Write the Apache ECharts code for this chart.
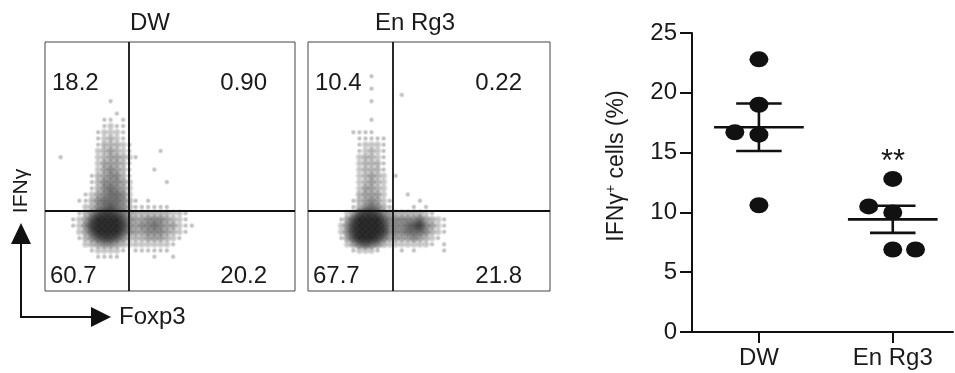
<!DOCTYPE html>
<html>
<head>
<meta charset="utf-8">
<script src="https://cdn.jsdelivr.net/npm/echarts@6/dist/echarts.min.js"></script>
<style>
  html, body { margin: 0; padding: 0; background: #fff; }
  #chart { width: 955px; height: 373px; }
</style>
</head>
<body>
<div id="chart"></div>
<script>
const FONT = '"Liberation Sans", Arial, Helvetica, sans-serif';

// ---- dot plot (right) ----
const groups = ['DW', 'En Rg3'];
const groupPos = [0.5, 1.5];
const dwValues = [22.8, 19.0, 16.7, 16.5, 10.6];
const rg3Values = [12.8, 10.5, 10.0, 6.9, 6.9];
// sideways shift of overlapping dots, in group units
const dwJitter = [0, 0, -0.18, 0, 0];
const rg3Jitter = [0, -0.18, 0, 0, 0.17];
const yTicks = [0, 5, 10, 15, 20, 25];

// ---- flow panels (left) ----
const panelTitles = ['DW', 'En Rg3'];
const dwQuadrants = ['18.2', '0.90', '60.7', '20.2'];   // UL, UR, LL, LR
const rg3Quadrants = ['10.4', '0.22', '67.7', '21.8'];
const dwGate = [33.6, 32.3];
const rg3Gate = [35.1, 32.1];

// event density, 2.5-unit cells; rows from y=90 downwards, columns from x=0
const dwDensity = [
  '0000000000000000000000000',
  '0000000000000000000000000',
  '0000000000000000000000000',
  '0000000000000000000000000',
  '0000000000000000000000000',
  '0000000000100000000000000',
  '0000000000000000000000000',
  '0000000000010000000000000',
  '0000000001101000000000000',
  '0000000001211000000000000',
  '0000000012221000000000000',
  '0000000012321000000000000',
  '0000000013332100000000000',
  '0000000023432100001000000',
  '0010000023443210000000000',
  '0000000024443100000000000',
  '0000000024543100010000000',
  '0000000134553100000000000',
  '0000000135554200000100000',
  '0000000135654200000000000',
  '0000001245665200000000000',
  '0000011356665310100000000',
  '0000002356765311111100000',
  '0000013578876433333322100',
  '0000124799997544555432100',
  '0000125899998545565442110',
  '0000024799997544555432100',
  '0000013578875333444321000',
  '0000002345543222222210000',
  '0000000122221011111100000',
  '0000000011110000010010000',
  '0000000000000000000000000'
];
const rg3Density = [
  '0000000000000000000000000',
  '0000000000100000000000000',
  '0000000000000000000000000',
  '0000000000100000000000000',
  '0000000000000001000000000',
  '0000000000100000000000000',
  '0000000000000000000000000',
  '0000000000000000000000000',
  '0000000000100000000000000',
  '0000000000000000000000000',
  '0000000111100000000000000',
  '0000000011111000000000000',
  '0000000012221000000000000',
  '0000000012321000000000000',
  '0000000023321000000000000',
  '0000000023331000000000000',
  '0000000023331000000000000',
  '0000000023432010000000000',
  '0000000023432000000000000',
  '0000000024432000000000000',
  '0000000034442000100000000',
  '0000000134542100001000000',
  '0000000135653100010100000',
  '0000002478875433333210000',
  '0000014799997555556432100',
  '0000025899998555678542100',
  '0000025899998555666532100',
  '0000014799986444454321000',
  '0000002467653222222210100',
  '0000000122210001010000100',
  '0000000000000000000000000',
  '0000000000000000000000000'
];

const CELL = 2.5, TOP = 90;

// one soft blob per non-empty cell
function toCells(rows) {
  const out = [];
  rows.forEach((row, r) => {
    for (let c = 0; c < row.length; c++) {
      const d = +row[c];
      if (!d) continue;
      const a = d === 1 ? 0.3 : 0.1 + d * 0.09;
      out.push({
        value: [(c + 0.5) * CELL, TOP - (r + 0.5) * CELL, d],
        symbolSize: d === 1 ? 6 : 8 + d * 0.6,
        itemStyle: {
          opacity: 1,
          color: new echarts.graphic.RadialGradient(0.5, 0.5, 0.5, [
            { offset: 0, color: `rgba(10,10,10,${a.toFixed(3)})` },
            { offset: 0.5, color: `rgba(10,10,10,${(a * 0.65).toFixed(3)})` },
            { offset: 1, color: 'rgba(10,10,10,0)' }
          ])
        }
      });
    }
  });
  return out;
}

function meanSem(vals) {
  const n = vals.length;
  const m = vals.reduce((s, v) => s + v, 0) / n;
  const sd = Math.sqrt(vals.reduce((s, v) => s + (v - m) ** 2, 0) / (n - 1));
  return [m, sd / Math.sqrt(n)];
}

const PANELS = [
  { left: 45, top: 42, width: 250, height: 249 },
  { left: 308, top: 42, width: 242, height: 249 }
];
const PLOT = { left: 692, top: 33, right: 2, bottom: 41 };

const chart = echarts.init(document.getElementById('chart'));

function flowSeries(idx, cells, gate) {
  return {
    type: 'scatter',
    xAxisIndex: idx,
    yAxisIndex: idx,
    silent: true,
    data: cells,
    symbol: 'circle',
    markLine: {
      silent: true,
      symbol: 'none',
      label: { show: false },
      lineStyle: { color: '#111', width: 1.8, type: 'solid' },
      data: [{ xAxis: gate[0] }, { yAxis: gate[1] }]
    }
  };
}

function quadLabels(panel, labels) {
  const style = (txt, align) => ({ text: txt, font: `24px ${FONT}`, fill: '#1a1a1a', textAlign: align, textVerticalAlign: 'middle' });
  const l = panel.left, r = panel.left + panel.width;
  return [
    { type: 'text', x: l + 7, y: 83, style: style(labels[0], 'left') },
    { type: 'text', x: r - 28, y: 83, style: style(labels[1], 'right') },
    { type: 'text', x: l + 5, y: 276, style: style(labels[2], 'left') },
    { type: 'text', x: r - 28, y: 276, style: style(labels[3], 'right') }
  ];
}

const [dwMean, dwSem] = meanSem(dwValues);
const [rgMean, rgSem] = meanSem(rg3Values);
const MEAN_HALF = 0.335, CAP_HALF = 0.17;

const dots = dwValues.map((v, i) => [groupPos[0] + dwJitter[i], v])
  .concat(rg3Values.map((v, i) => [groupPos[1] + rg3Jitter[i], v]));

chart.setOption({
  animation: false,
  backgroundColor: '#fff',
  textStyle: { fontFamily: FONT },
  grid: [
    { ...PANELS[0], show: true, borderColor: '#444', borderWidth: 1, backgroundColor: 'transparent' },
    { ...PANELS[1], show: true, borderColor: '#444', borderWidth: 1, backgroundColor: 'transparent' },
    { ...PLOT }
  ],
  xAxis: [
    { gridIndex: 0, type: 'value', min: 0, max: 100, show: false },
    { gridIndex: 1, type: 'value', min: 0, max: 100, show: false },
    {
      gridIndex: 2, type: 'value', min: 0, max: 1.95,
      splitLine: { show: false },
      axisLine: { show: true, lineStyle: { color: '#111', width: 2 } },
      axisTick: { show: true, customValues: groupPos, length: 11, lineStyle: { color: '#111', width: 2 } },
      axisLabel: {
        customValues: groupPos, margin: 14,
        formatter: (v) => groups[groupPos.indexOf(v)] || '',
        fontSize: 24, color: '#1a1a1a', fontFamily: FONT
      }
    }
  ],
  yAxis: [
    { gridIndex: 0, type: 'value', min: 0, max: 100, show: false },
    { gridIndex: 1, type: 'value', min: 0, max: 100, show: false },
    {
      gridIndex: 2, type: 'value', min: yTicks[0], max: yTicks[yTicks.length - 1], interval: 5,
      splitLine: { show: false },
      axisLine: { show: true, lineStyle: { color: '#111', width: 2 } },
      axisTick: { show: true, length: 12, lineStyle: { color: '#111', width: 2 } },
      axisLabel: { margin: 15, fontSize: 24, color: '#1a1a1a', fontFamily: FONT }
    }
  ],
  series: [
    flowSeries(0, toCells(dwDensity), dwGate),
    flowSeries(1, toCells(rg3Density), rg3Gate),
    {
      type: 'scatter',
      xAxisIndex: 2, yAxisIndex: 2,
      data: dots,
      symbol: 'circle',
      symbolSize: [19, 16],
      itemStyle: { color: '#111', opacity: 1 },
      z: 3
    },
    {
      type: 'custom',
      xAxisIndex: 2, yAxisIndex: 2,
      data: [[groupPos[0], dwMean, dwSem], [groupPos[1], rgMean, rgSem]],
      z: 4,
      renderItem: (params, api) => {
        const x = api.value(0), m = api.value(1), s = api.value(2);
        const seg = (x1, y1, x2, y2) => {
          const a = api.coord([x1, y1]), b = api.coord([x2, y2]);
          return { type: 'line', shape: { x1: a[0], y1: a[1], x2: b[0], y2: b[1] }, style: { stroke: '#111', lineWidth: 2.6 } };
        };
        return {
          type: 'group',
          children: [
            seg(x - MEAN_HALF, m, x + MEAN_HALF, m),
            seg(x, m - s, x, m + s),
            seg(x - CAP_HALF, m + s, x + CAP_HALF, m + s),
            seg(x - CAP_HALF, m - s, x + CAP_HALF, m - s)
          ]
        };
      }
    }
  ],
  graphic: [
    // panel titles
    { type: 'text', x: 150, y: 23, style: { text: panelTitles[0], font: `24px ${FONT}`, fill: '#1a1a1a', textAlign: 'center', textVerticalAlign: 'middle' } },
    { type: 'text', x: 415, y: 23, style: { text: panelTitles[1], font: `24px ${FONT}`, fill: '#1a1a1a', textAlign: 'center', textVerticalAlign: 'middle' } },
    ...quadLabels(PANELS[0], dwQuadrants),
    ...quadLabels(PANELS[1], rg3Quadrants),
    // axis arrows
    { type: 'polyline', shape: { points: [[21, 240], [21, 317], [94, 317]] }, style: { stroke: '#111', lineWidth: 2, fill: null } },
    { type: 'polygon', shape: { points: [[21, 223], [11, 244], [31, 244]] }, style: { fill: '#111' } },
    { type: 'polygon', shape: { points: [[111, 317], [91, 307], [91, 327]] }, style: { fill: '#111' } },
    { type: 'text', x: 119, y: 317, style: { text: 'Foxp3', font: `24px ${FONT}`, fill: '#1a1a1a', textAlign: 'left', textVerticalAlign: 'middle' } },
    { type: 'text', x: 21, y: 191, rotation: Math.PI / 2, style: { text: 'IFNγ', font: `21px ${FONT}`, fill: '#1a1a1a', textAlign: 'center', textVerticalAlign: 'middle' } },
    // dot plot y name and significance
    {
      type: 'text', x: 617, y: 166, rotation: Math.PI / 2,
      style: {
        text: '{a|IFNγ}{s|+}{a| cells (%)}',
        textAlign: 'center', textVerticalAlign: 'middle', fill: '#1a1a1a',
        rich: {
          a: { fontSize: 23, fontFamily: FONT, fill: '#1a1a1a', lineHeight: 25 },
          s: { fontSize: 14, fontFamily: FONT, fill: '#1a1a1a', verticalAlign: 'top', lineHeight: 25 }
        }
      }
    },
    { type: 'text', x: 893, y: 162, style: { text: '**', font: `31px ${FONT}`, fill: '#1a1a1a', textAlign: 'center', textVerticalAlign: 'middle' } }
  ]
});
</script>
</body>
</html>
